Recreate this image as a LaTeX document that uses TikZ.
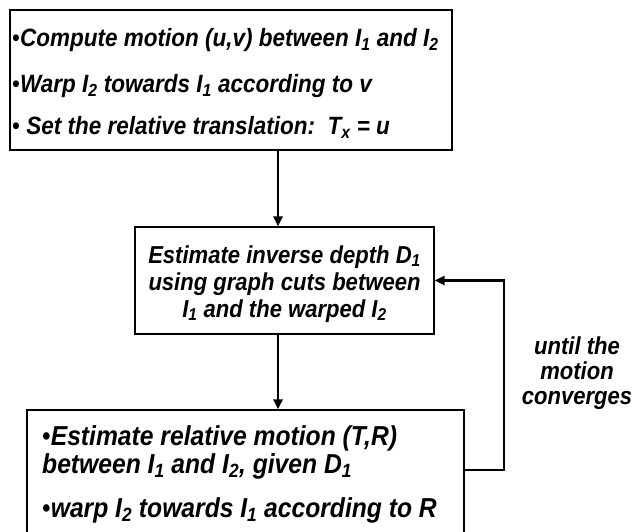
\documentclass[tikz,border=0pt]{standalone}
\usepackage{fontspec}
\usepackage{graphicx}
\setmainfont{Liberation Sans}
\usetikzlibrary{arrows.meta}
\newcommand{\sbs}[1]{\textsubscript{#1}}
\newcommand{\sq}[1]{\scalebox{0.9}[1]{#1}}
\newcommand{\blt}{{\mdseries\upshape\textbullet}}
\begin{document}
\begin{tikzpicture}[x=1pt,y=-1pt,
  every node/.style={font=\bfseries\itshape\fontsize{25}{30}\selectfont},
  box/.style={draw, line width=1.1pt, inner sep=0pt},
  txt/.style={anchor=base west, inner sep=0pt},
  ctxt/.style={anchor=base, inner sep=0pt},
  midf/.style={font=\bfseries\itshape\fontsize{24.5}{29}\selectfont},
  botf/.style={font=\bfseries\itshape\fontsize{27.4}{32}\selectfont},
  labf/.style={font=\bfseries\itshape\fontsize{24.5}{29}\selectfont},
  link/.style={line width=2.6pt, -{Triangle[length=10pt,width=9pt]}}]
\clip (0,0) rectangle (634,532);
\useasboundingbox (0,0) rectangle (634,532);
% boxes
\node[box, minimum width=442pt, minimum height=140pt] (top) at (231,80) {};
\node[box, minimum width=299pt, minimum height=107pt] (mid) at (284.5,280.5) {};
\node[box, minimum width=437pt, minimum height=160pt] (bot) at (245.5,490) {};
% top text
\node[txt] (t1) at (12,47) {\sq{\blt Compute motion (u,v) between I\sbs{1} and I\sbs{2}}};
\node[txt] (t2) at (12,93) {\sq{\blt Warp I\sbs{2} towards I\sbs{1} according to v}};
\node[txt] (t3) at (12,135) {\sq{\blt\ Set the relative translation:\ \ T\sbs{x} = u}};
% middle text
\node[ctxt, midf] (m1) at (284.5,263) {\sq{Estimate inverse depth D\sbs{1}}};
\node[ctxt, midf] (m2) at (284.5,290) {\sq{using graph cuts between}};
\node[ctxt, midf] (m3) at (284.5,317) {\sq{I\sbs{1} and the warped I\sbs{2}}};
% bottom text
\node[txt, botf] (b1) at (42,445) {\sq{\blt Estimate relative motion (T,R)}};
\node[txt, botf] (b2) at (42,473) {\sq{between I\sbs{1} and I\sbs{2}, given D\sbs{1}}};
\node[txt, botf] (b3) at (42,517) {\sq{\blt warp I\sbs{2} towards I\sbs{1} according to R}};
% label
\node[ctxt, labf] (l1) at (577,354) {\sq{until the}};
\node[ctxt, labf] (l2) at (577,379) {\sq{motion}};
\node[ctxt, labf] (l3) at (577,404) {\sq{converges}};
% connectors
\coordinate (fb) at (504,470);
\draw[link] (top.south -| 278,0) -- (mid.north -| 278,0);
\draw[link] (mid.south -| 278,0) -- (bot.north -| 278,0);
\draw[link] (bot.east |- fb) -- (fb) |- (mid.east);
\end{tikzpicture}
\end{document}
